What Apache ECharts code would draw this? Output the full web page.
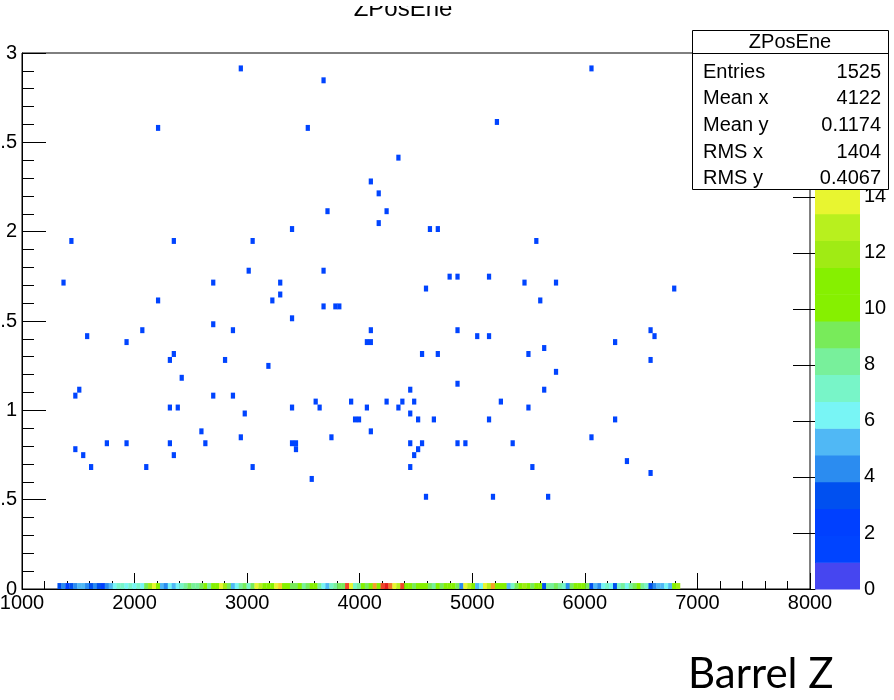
<!DOCTYPE html>
<html><head><meta charset="utf-8">
<script src="https://cdn.jsdelivr.net/npm/echarts@6/dist/echarts.min.js"></script>
<style>html,body{margin:0;padding:0;background:#fff}#c{width:894px;height:700px}</style>
</head><body><div id="c"></div><script>
// ---- data ----
const histTitle = 'ZPosEne';
const statLabels = ['Entries', 'Mean x', 'Mean y', 'RMS x', 'RMS y'];
const statValues = ['1525', '4122', '0.1174', '1404', '0.4067'];
const xTicks = [1000, 2000, 3000, 4000, 5000, 6000, 7000, 8000];
const yTicks = [0, 0.5, 1, 1.5, 2, 2.5, 3];
const zTicks = [0, 2, 4, 6, 8, 10, 12, 14];
const zMax = 19.14;
const nLevels = 20;
const binX = 35;        // x bin width
const binY = 0.0333;    // y bin width
const stripStart = 1315; // lower edge of first filled bin in y=0 row
// counts per x bin in the lowest y row
const stripValues = [3,4, 2, 3,4,5, 5,4, 3,4,3,2,4, 5, 6,7,7,6,7, 6,7,6,9, 12,14,10, 5,4,6,5,6,7,
  8,9,8,8,9,10,8, 10,11,14,12,9, 5,6,8,9,7,9, 14,13,11,10,10, 14,15, 10,11,9, 9,10,8,9,10,11,
  8,6, 5,7, 8,9,9, 18, 14, 7,8, 10,9,11, 16, 10, 18,19, 17, 14,13, 18, 10,11,9,10,11,10,
  9,8,10,9,10, 11,10,9, 4, 14,13, 10, 5,6, 14,13, 16, 10,11,10, 5,7, 9,10,12,11,9,10,10,
  3, 8,8,9,8,7, 4, 9,10,11,10,9, 3,5,4, 6,7,6, 3, 7,8,6, 8,9,10,8,7, 3,4, 5,5,6,5, 10,12];
// isolated single-entry cells (x, y)
const dotX = [2940,6040,3680,5220,2200,3530,4340,4100,4180,3720,4230,4180,4700,3400,4620,
  1440,2340,3050,5560,3000,3660,4880,5130,4810,1380,5450,5730,2680,3280,4570,6800,3280,
  2220,3220,5600,3670,3790,3820,3390,2710,2860,4080,6570,2050,4880,5050,6600,1570,5130,
  1930,4060,4110,6270,5640,2330,4550,4680,5500,2300,2800,6570,3200,5730,2400,4880,4440,
  1500,5620,1460,2700,2860,3590,3930,4230,4390,4480,5250,2320,2380,3400,3630,4050,4350,5510,
  2970,4440,3960,3980,4520,5130,6250,4650,2600,4100,2940,3760,6040,1750,3400,4550,4860,5340,
  4950,1920,2310,2620,3420,4430,4500,1460,3440,1530,2350,4470,6360,1620,2110,3050,4440,5530,
  6580,3570,4580,5180,5680];
const dotY = [2.90,2.90,2.84,2.63,2.57,2.57,2.42,2.27,2.21,2.12,2.12,2.06,2.03,2.00,2.00,
  1.94,1.94,1.94,1.94,1.79,1.79,1.76,1.76,1.74,1.73,1.73,1.73,1.70,1.70,1.67,1.67,1.65,
  1.62,1.62,1.62,1.58,1.58,1.58,1.52,1.49,1.46,1.46,1.46,1.45,1.45,1.43,1.43,1.40,1.40,
  1.37,1.37,1.37,1.37,1.34,1.31,1.31,1.31,1.31,1.29,1.29,1.28,1.25,1.22,1.19,1.16,1.11,
  1.10,1.10,1.08,1.07,1.07,1.04,1.04,1.04,1.04,1.04,1.04,1.01,1.01,1.01,1.01,1.01,1.01,1.01,
  0.98,0.98,0.95,0.95,0.95,0.95,0.95,0.94,0.89,0.89,0.86,0.86,0.86,0.83,0.83,0.83,0.83,0.83,
  0.81,0.80,0.80,0.80,0.80,0.80,0.78,0.77,0.77,0.74,0.74,0.74,0.71,0.68,0.68,0.68,0.68,0.68,
  0.65,0.62,0.53,0.53,0.50];
const sideNote = 'Barrel Z';

// ---- styles ----
const PALETTE = ['#4646f0','#0044ff','#0040ff','#0050f0','#2b8cf0','#50b8f5','#78f5f5','#78f5c8',
  '#78f09b','#78eb5a','#86f000','#86f000','#a0eb14','#b8f01e','#e8f530','#f5d228','#f5a028',
  '#f07828','#f04628','#e61e1e'];
const FONT = '"Liberation Sans", Arial, sans-serif';

const step = zMax / nLevels;
const pieces = PALETTE.map((c, k) => ({gte: k * step, lt: (k + 1) * step, color: c}));
pieces[pieces.length - 1].lt = 1e9;

const stripData = stripValues.map((v, i) => [stripStart + i * binX + binX / 2, binY / 2, v]);
const dotData = dotX.map((x, i) => {
  const bx = 1000 + Math.floor((x - 1000) / binX) * binX + binX / 2;
  const by = Math.floor(dotY[i] / binY) * binY + binY / 2;
  return [bx, by, 1];
});
const levelData = PALETTE.map((c, k) => [k]);

function cellItem(params, api) {
  const x = api.value(0), y = api.value(1);
  const p0 = api.coord([x - binX / 2, y + binY / 2]);
  const sz = api.size([binX, binY]);
  return {type: 'rect', shape: {x: p0[0], y: p0[1], width: sz[0] + 0.3, height: sz[1]},
    style: {fill: api.visual('color')}};
}
function levelItem(params, api) {
  const k = api.value(0);
  const p0 = api.coord([0, (k + 1) * step]);
  const p1 = api.coord([1, k * step]);
  return {type: 'rect', shape: {x: p0[0], y: p0[1], width: p1[0] - p0[0], height: p1[1] - p0[1] + 0.5},
    style: {fill: PALETTE[k]}};
}

const chart = echarts.init(document.getElementById('c'), null, {renderer: 'canvas'});
const lbl = {color: '#000', fontSize: 20, fontFamily: FONT};
const statX0 = 692, statY0 = 30, statW = 196, statH = 159;
const rowY = [72, 98, 125, 152, 178];
const graphics = [
  {type: 'text', z: 100, style: {x: 403, y: 21, text: histTitle, font: '24px ' + FONT, fill: '#000', textAlign: 'center', textVerticalAlign: 'bottom'}},
  {type: 'rect', z: 101, shape: {x: 0, y: 0, width: 894, height: 6}, style: {fill: '#fff'}},
  {type: 'rect', z: 100, shape: {x: statX0 + 0.5, y: statY0 + 0.5, width: statW, height: statH}, style: {fill: '#fff', stroke: '#000', lineWidth: 1}},
  {type: 'line', z: 100, shape: {x1: statX0, y1: 53.5, x2: statX0 + statW, y2: 53.5}, style: {stroke: '#000', lineWidth: 1}},
  {type: 'text', z: 100, style: {x: statX0 + statW / 2, y: 42, text: histTitle, font: '20px ' + FONT, fill: '#000', textAlign: 'center', textVerticalAlign: 'middle'}},
  {type: 'text', z: 100, style: {x: 688, y: 674, text: sideNote, font: '42px Lato, "Open Sans", sans-serif', fill: '#000', textAlign: 'left', textVerticalAlign: 'middle'}}
];
statLabels.forEach((s, i) => {
  graphics.push({type: 'text', z: 100, style: {x: 703, y: rowY[i], text: s, font: '20px ' + FONT, fill: '#000', textAlign: 'left', textVerticalAlign: 'middle'}});
  graphics.push({type: 'text', z: 100, style: {x: 881, y: rowY[i], text: statValues[i], font: '20px ' + FONT, fill: '#000', textAlign: 'right', textVerticalAlign: 'middle'}});
});

chart.setOption({
  animation: false,
  backgroundColor: '#fff',
  grid: [
    {left: 22, top: 53, width: 788, height: 536, show: true, borderColor: '#000', borderWidth: 1, backgroundColor: 'transparent', containLabel: false, outerBoundsMode: 'none'},
    {left: 815, top: 53, width: 45, height: 536, containLabel: false, outerBoundsMode: 'none'}
  ],
  xAxis: [
    {type: 'value', gridIndex: 0, min: xTicks[0], max: xTicks[xTicks.length - 1], interval: xTicks[1] - xTicks[0],
      axisLine: {show: true, lineStyle: {color: '#000', width: 1}},
      axisTick: {show: true, inside: true, length: 16, lineStyle: {color: '#000'}},
      minorTick: {show: true, splitNumber: 5, length: 8, lineStyle: {color: '#000'}},
      axisLabel: Object.assign({margin: 4, formatter: v => String(v)}, lbl), splitLine: {show: false}},
    {type: 'value', gridIndex: 1, min: 0, max: 1, show: false}
  ],
  yAxis: [
    {type: 'value', gridIndex: 0, min: yTicks[0], max: yTicks[yTicks.length - 1], interval: yTicks[1] - yTicks[0],
      axisLine: {show: true, lineStyle: {color: '#000', width: 1}},
      axisTick: {show: true, inside: true, length: 24, lineStyle: {color: '#000'}},
      minorTick: {show: true, splitNumber: 5, length: 12, lineStyle: {color: '#000'}},
      axisLabel: Object.assign({margin: 5, formatter: v => String(v)}, lbl), splitLine: {show: false}},
    {type: 'value', gridIndex: 1, position: 'right', min: 0, max: zMax, interval: zTicks[1] - zTicks[0],
      axisLine: {show: true, lineStyle: {color: '#000', width: 1}},
      axisTick: {show: true, inside: true, length: 22, lineStyle: {color: '#000'}},
      axisLabel: Object.assign({margin: 4, showMaxLabel: false, formatter: v => String(v)}, lbl), splitLine: {show: false}}
  ],
  visualMap: {type: 'piecewise', show: false, dimension: 2, seriesIndex: [1, 2], pieces: pieces},
  series: [
    {type: 'custom', xAxisIndex: 1, yAxisIndex: 1, data: levelData, renderItem: levelItem, silent: true},
    {type: 'custom', xAxisIndex: 0, yAxisIndex: 0, data: stripData, renderItem: cellItem, silent: true, encode: {x: 0, y: 1}},
    {type: 'custom', xAxisIndex: 0, yAxisIndex: 0, data: dotData, renderItem: cellItem, silent: true, encode: {x: 0, y: 1}}
  ],
  graphic: graphics
});
</script></body></html>
